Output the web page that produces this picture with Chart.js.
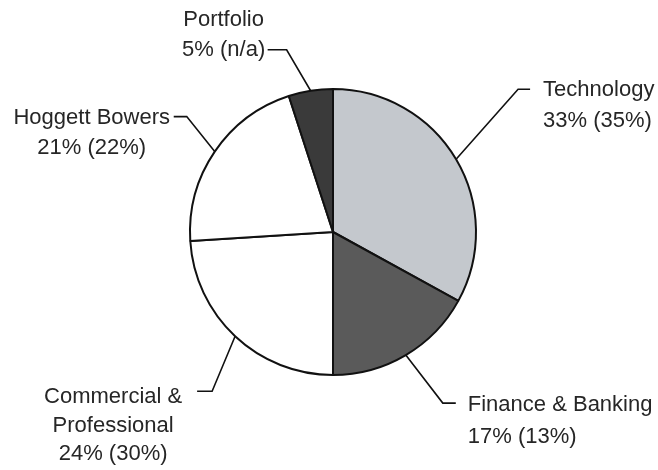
<!DOCTYPE html>
<html>
<head>
<meta charset="utf-8">
<script src="https://cdn.jsdelivr.net/npm/chart.js@4"></script>
<style>
  html, body { margin: 0; padding: 0; background: #ffffff; }
  canvas { display: block; }
</style>
</head>
<body>
<canvas id="reparto" width="658" height="470"></canvas>
<script>
// Sector split, this year and (in brackets) last year
const sectores = ['Technology', 'Finance & Banking', 'Commercial & Professional', 'Hoggett Bowers', 'Portfolio']
const nombresEtiqueta = [['Technology'], ['Finance & Banking'], ['Commercial &', 'Professional'], ['Hoggett Bowers'], ['Portfolio']]
const porcentajes = [33, 17, 24, 21, 5]
const porcentajesAnteriores = [35, 13, 30, 22, null]
const colores = ['#c4c8cd', '#5a5a5a', '#ffffff', '#ffffff', '#3a3a3a']

// where each label sits relative to its slice edge (elbow, stub, text block)
const guias = [
    { codo: [62, -70], tramo: 12, alinear: 'left', dx: 13, dy: 1, interlineado: 31 },
    { codo: [37, 48], tramo: 13, alinear: 'left', dx: 12, dy: 2, interlineado: 32 },
    { codo: [-23, 55], tramo: -15, alinear: 'center', dx: -84, dy: 6, interlineado: 28.5 },
    { codo: [-28, -35], tramo: -13, alinear: 'center', dx: -82, dy: 1.5, interlineado: 30 },
    { codo: [-24, -41], tramo: -19, alinear: 'center', dx: -44, dy: -30, interlineado: 30 }
]

function textoEtiqueta(i) {
    const previo = porcentajesAnteriores[i] === null ? 'n/a' : porcentajesAnteriores[i] + '%'
    return [...nombresEtiqueta[i], `${porcentajes[i]}% (${previo})`]
}

const etiquetasGuia = {
    id: 'etiquetasGuia',
    afterDraw(chart) {
        const ctx = chart.ctx
        const arcos = chart.getDatasetMeta(0).data
        ctx.save()
        ctx.strokeStyle = '#111111'
        ctx.lineWidth = 1.6
        ctx.fillStyle = '#262626'
        ctx.font = '22px "Liberation Sans", Arial, sans-serif'
        ctx.textBaseline = 'middle'
        arcos.forEach((arco, i) => {
            const g = guias[i]
            const medio = (arco.startAngle + arco.endAngle) / 2
            const bx = arco.x + Math.cos(medio) * arco.outerRadius
            const by = arco.y + Math.sin(medio) * arco.outerRadius
            const cx = bx + g.codo[0]
            const cy = by + g.codo[1]
            const fx = cx + g.tramo
            ctx.beginPath()
            ctx.moveTo(bx, by)
            ctx.lineTo(cx, cy)
            ctx.lineTo(fx, cy)
            ctx.stroke()

            ctx.textAlign = g.alinear
            textoEtiqueta(i).forEach((linea, n) => {
                ctx.fillText(linea, fx + g.dx, cy + g.dy + n * g.interlineado)
            })
        })
        ctx.restore()
    }
}

new Chart(document.getElementById('reparto'), {
    type: 'pie',
    data: {
        labels: sectores,
        datasets: [{
            data: porcentajes,
            backgroundColor: colores,
            borderColor: '#111111',
            borderWidth: 2,
            radius: 143
        }]
    },
    options: {
        responsive: false,
        animation: false,
        devicePixelRatio: 1,
        layout: { padding: { left: 100, right: 92, top: 80, bottom: 86 } },
        plugins: {
            legend: { display: false },
            tooltip: { enabled: false }
        }
    },
    plugins: [etiquetasGuia]
})
</script>
</body>
</html>
